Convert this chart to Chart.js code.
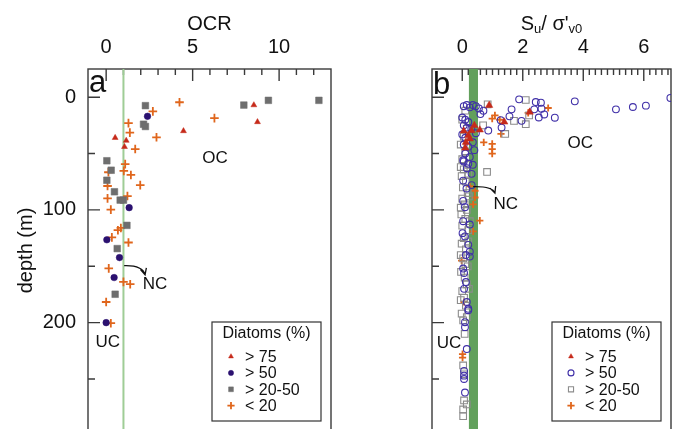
<!DOCTYPE html>
<html>
<head>
<meta charset="utf-8">
<script src="https://cdn.jsdelivr.net/npm/chart.js@4.4.0/dist/chart.umd.min.js"></script>
<style>
  html, body { margin: 0; padding: 0; background: #fff; overflow: hidden; width: 681px; height: 429px; }
  canvas { position: absolute; top: 0; }
</style>
</head>
<body>
<canvas id="chart-ocr" width="345" height="432" style="left:0"></canvas>
<canvas id="chart-su" width="336" height="432" style="left:345px"></canvas>
<script>
// Données : [valeur, profondeur (m)]
const diatomLabels = ['> 75', '> 50', '> 20-50', '< 20'];
const depthTicks = [0, 100, 200];
const depthMinor = [50, 150, 250];

// Panneau a : OCR
const ocrTicks = [0, 5, 10];
const ocrNC = 1;
const ocrTri = [[8.54, 7], [8.75, 22], [4.47, 30], [0.52, 36], [1.16, 38.5], [1.06, 44]];
const ocrCircle = [[2.39, 17], [1.33, 98], [0.04, 126.5], [0.77, 142.3], [0.46, 160], [0.0, 200]];
const ocrSquare = [[2.27, 7.5], [7.96, 7], [9.38, 2.8], [12.3, 2.8], [2.16, 24], [2.27, 26],
  [0.04, 56.4], [0.29, 64.8], [0.04, 73.7], [0.48, 83.9], [0.81, 91.3], [1.0, 91.3],
  [1.2, 113.7], [0.64, 134.3], [0.52, 174.8]];
const ocrPlus = [[4.24, 4.5], [2.7, 12.6], [6.26, 18.6], [1.29, 23], [1.37, 31.4], [2.91, 35.6],
  [1.68, 46], [1.1, 59.4], [0.13, 66.6], [1.02, 65.4], [1.43, 69], [0.08, 78.8], [1.97, 78],
  [1.23, 87.7], [0.08, 89.8], [0.27, 99.7], [0.85, 116], [0.68, 118], [0.33, 124.4],
  [1.29, 128.9], [0.15, 151.9], [1.0, 163.8], [1.39, 165.9], [0.0, 181.7], [0.27, 200.5]];

// Panneau b : Su / sigma'v0
const suTicks = [0, 2, 4, 6];
const suBand = [0.22, 0.52];
const suTri = [[0.89, 7.2], [2.23, 13.2], [1.39, 22], [0.31, 29.6], [0.2, 34], [0.25, 37],
  [0.12, 40], [0.58, 29], [0.4, 25], [0.05, 30], [0.1, 45]];
const suCircle = [[1.88, 1.9], [2.43, 4.3], [2.6, 4.9], [3.72, 3.7], [5.08, 10.8], [5.64, 8.7],
  [6.07, 7.5], [6.88, 0.7], [1.63, 10.8], [2.38, 10.8], [2.62, 10.2], [2.71, 15.3], [2.53, 18],
  [3.06, 18.2], [1.56, 17], [1.96, 21], [1.27, 20.4], [1.3, 27], [0.86, 29.6],
  [0.05, 8], [0.15, 7], [0.25, 9], [0.35, 7], [0.45, 8], [0.55, 10], [0.7, 12], [0.6, 15],
  [0.0, 18], [0.1, 20], [0.2, 22], [0.05, 25], [0.15, 27], [0.3, 28], [0.45, 32], [0.0, 33],
  [0.1, 36], [0.35, 40], [0.05, 42], [0.2, 44], [0.4, 47], [0.1, 50], [0.25, 53], [0.05, 57],
  [0.35, 60], [0.15, 63], [0.03, 56], [0.2, 59], [0.31, 68], [0.03, 74], [0.14, 81], [0.31, 78],
  [0.03, 92], [0.09, 97.6], [0.03, 110], [0.25, 113], [0.01, 120.6], [0.09, 123.5], [0.2, 131],
  [0.25, 137], [0.12, 140], [0.25, 141.4], [0.03, 152], [0.06, 156], [0.12, 164], [0.06, 170],
  [0.15, 181.7], [0.2, 187.7], [0.2, 189], [0.09, 199.6], [0.09, 204], [0.15, 223.4],
  [0.06, 242.8], [0.06, 247], [0.06, 250], [0.09, 262]];
const suSquare = [[2.1, 2.5], [0.84, 6.3], [1.71, 21], [2.1, 24], [2.21, 16.2], [1.42, 32.6],
  [0.69, 25], [0.82, 66.3], [0.1, 12], [0.0, 20], [0.15, 28], [0.05, 35], [-0.05, 42], [0.1, 48],
  [0.0, 55], [0.2, 60], [0.05, 64], [-0.02, 70], [0.12, 75], [0.02, 80], [0.18, 85], [0.0, 90],
  [0.08, 95], [0.15, 100], [-0.03, 104], [0.1, 108], [0.0, 114], [0.2, 118], [0.05, 125],
  [-0.02, 130], [0.12, 135], [0.03, 143], [0.1, 148], [-0.04, 155], [0.08, 160], [0.15, 166],
  [0.0, 172], [0.06, 178], [0.12, 185], [-0.02, 192], [0.03, 198], [0.08, 210], [0.03, 238],
  [0.06, 245.8], [0.06, 269], [0.15, 272.6], [0.03, 277], [0.03, 283], [0.2, 68], [0.22, 88],
  [0.25, 110], [0.2, 128], [0.18, 150], [0.22, 170], [0.15, 195], [-0.05, 62], [-0.05, 98],
  [-0.05, 140], [-0.05, 180]];
const suPlus = [[0.99, 19], [1.24, 20], [1.28, 32.6], [0.71, 40], [0.99, 41.5], [0.99, 46],
  [0.99, 50], [1.08, 16.2], [2.18, 14], [2.84, 9.6], [0.25, 79], [0.42, 83], [0.42, 89],
  [0.36, 95], [0.58, 109.5], [0.36, 119], [-0.02, 145], [0.06, 181.7], [0.01, 228], [0.01, 231]];

const FONT = '"Liberation Sans", Arial, Helvetica, sans-serif';
Chart.defaults.font.family = FONT;
Chart.defaults.color = '#111';

function pts(arr) {
  return arr.map(([x, y]) => ({ x: x, y: y }));
}

// Cadre, graduations intérieures, annotations et légende
const decor = {
  id: 'decor',
  beforeDatasetsDraw(chart, args, o) {
    const { ctx, chartArea: a } = chart;
    const sx = chart.scales.x, sy = chart.scales.y;
    ctx.save();
    ctx.strokeStyle = '#3a3a3a';
    ctx.lineWidth = 1.4;
    ctx.strokeRect(a.left, a.top, a.right - a.left, a.bottom - a.top);
    ctx.beginPath();
    const [v0, v1, step] = o.xMinor;
    for (let i = 0; v0 + i * step <= v1 + 1e-9; i++) {
      const v = v0 + i * step;
      const px = sx.getPixelForValue(v);
      const major = o.xMajor.some(m => Math.abs(m - v) < 1e-6);
      ctx.moveTo(px, a.top);
      ctx.lineTo(px, a.top + (major ? 12 : 6));
    }
    depthTicks.forEach(v => { const py = sy.getPixelForValue(v); ctx.moveTo(a.left, py); ctx.lineTo(a.left + 12, py); });
    depthMinor.forEach(v => { const py = sy.getPixelForValue(v); ctx.moveTo(a.left, py); ctx.lineTo(a.left + 7, py); });
    ctx.stroke();
    ctx.restore();
  },
  afterDraw(chart, args, o) {
    const { ctx, chartArea: a } = chart;
    const sx = chart.scales.x, sy = chart.scales.y;
    ctx.save();
    ctx.fillStyle = '#111';
    ctx.textBaseline = 'alphabetic';
    ctx.textAlign = 'left';
    ctx.font = '31px ' + FONT;
    ctx.fillText(o.letter, a.left + 1, a.top + o.letterBase);

    ctx.font = '17px ' + FONT;
    ctx.textAlign = 'center';
    ctx.textBaseline = 'middle';
    o.notes.forEach(n => ctx.fillText(n.text, sx.getPixelForValue(n.x), sy.getPixelForValue(n.y)));

    // flèche NC
    const A = o.arrow;
    const p0 = [sx.getPixelForValue(A[0][0]), sy.getPixelForValue(A[0][1])];
    const pc = [sx.getPixelForValue(A[1][0]), sy.getPixelForValue(A[1][1])];
    const p1 = [sx.getPixelForValue(A[2][0]), sy.getPixelForValue(A[2][1])];
    ctx.strokeStyle = '#111';
    ctx.lineWidth = 1.3;
    ctx.beginPath();
    ctx.moveTo(p0[0], p0[1]);
    ctx.quadraticCurveTo(pc[0], pc[1], p1[0], p1[1]);
    const ang = Math.atan2(p1[1] - pc[1], p1[0] - pc[0]);
    ctx.moveTo(p1[0] - 7 * Math.cos(ang - 0.45), p1[1] - 7 * Math.sin(ang - 0.45));
    ctx.lineTo(p1[0], p1[1]);
    ctx.lineTo(p1[0] - 7 * Math.cos(ang + 0.45), p1[1] - 7 * Math.sin(ang + 0.45));
    ctx.stroke();

    // titre de l'axe avec indices
    if (o.titleParts) {
      let total = 0;
      o.titleParts.forEach(p => { ctx.font = (p.sub ? '13px ' : '20px ') + FONT; p.w = ctx.measureText(p.t).width; total += p.w; });
      let cx = (a.left + a.right) / 2 - total / 2;
      ctx.textAlign = 'left';
      ctx.textBaseline = 'alphabetic';
      o.titleParts.forEach(p => {
        ctx.font = (p.sub ? '13px ' : '20px ') + FONT;
        ctx.fillText(p.t, cx, p.sub ? 33 : 29.5);
        cx += p.w;
      });
    }

    // légende encadrée
    const L = o.legend;
    const bx = a.right - L.right - L.w, by = L.top;
    ctx.strokeStyle = '#333';
    ctx.lineWidth = 1.2;
    ctx.strokeRect(bx, by, L.w, L.h);
    ctx.font = '16px ' + FONT;
    ctx.textAlign = 'center';
    ctx.textBaseline = 'middle';
    ctx.fillText('Diatoms (%)', bx + L.w / 2, by + 12);
    ctx.textAlign = 'left';
    chart.data.datasets.filter(d => d.inLegend).forEach((d, i) => {
      const yy = by + 34.5 + i * 16.4;
      ctx.fillStyle = d.backgroundColor;
      ctx.strokeStyle = d.borderColor;
      ctx.lineWidth = d.borderWidth;
      Chart.helpers.drawPoint(ctx, { pointStyle: d.pointStyle, radius: d.legendRadius, rotation: 0, borderWidth: d.borderWidth }, bx + 19, yy);
      ctx.fillStyle = '#111';
      ctx.fillText(d.label, bx + 33, yy + 1);
    });
    ctx.restore();
  }
};

const red = '#c62a1a', orange = '#e0661c';

function axes(xMin, xMax, xTicks, xTitle, showY, yWidth) {
  return {
    x: {
      type: 'linear', position: 'top', min: xMin, max: xMax,
      afterBuildTicks: s => { s.ticks = xTicks.map(v => ({ value: v })); },
      afterFit: s => { s.height = 69; s.paddingLeft = 0; s.paddingRight = 0; },
      grid: { display: false, drawTicks: false },
      border: { display: false },
      ticks: { font: { size: 20 }, color: '#111', padding: 10 },
      title: { display: !!xTitle, text: xTitle, font: { size: 20 }, color: '#111', padding: { top: 12, bottom: 0 } }
    },
    y: {
      type: 'linear', reverse: true, min: -25, max: 297,
      afterBuildTicks: s => { s.ticks = depthTicks.map(v => ({ value: v })); },
      afterFit: s => { s.width = yWidth; s.paddingTop = 0; s.paddingBottom = 0; },
      grid: { display: false, drawTicks: false },
      border: { display: false },
      ticks: { display: showY, font: { size: 20 }, color: '#111', padding: 12 },
      title: { display: showY, text: 'depth (m)', font: { size: 20 }, color: '#111', padding: { top: 14, bottom: 0 } }
    }
  };
}

// Panneau a
new Chart(document.getElementById('chart-ocr'), {
  type: 'scatter',
  data: {
    datasets: [
      { label: diatomLabels[0], inLegend: true, data: pts(ocrTri), pointStyle: 'triangle', pointRadius: 3.4, legendRadius: 2.8,
        backgroundColor: red, borderColor: red, borderWidth: 0.5 },
      { label: diatomLabels[1], inLegend: true, data: pts(ocrCircle), pointStyle: 'circle', pointRadius: 3.3, legendRadius: 2.6,
        backgroundColor: '#2b1170', borderColor: '#2b1170', borderWidth: 0.5 },
      { label: diatomLabels[2], inLegend: true, data: pts(ocrSquare), pointStyle: 'rect', pointRadius: 4.7, legendRadius: 3.4,
        backgroundColor: '#6e6e6e', borderColor: '#6e6e6e', borderWidth: 0.5 },
      { label: diatomLabels[3], inLegend: true, data: pts(ocrPlus), pointStyle: 'cross', pointRadius: 4.3, legendRadius: 3.6,
        backgroundColor: orange, borderColor: orange, borderWidth: 1.8 },
      { label: 'NC', type: 'line', data: [{ x: ocrNC, y: -25 }, { x: ocrNC, y: 300 }],
        borderColor: '#9fcd96', borderWidth: 2, pointRadius: 0, fill: false }
    ]
  },
  options: {
    responsive: false,
    animation: false,
    layout: { autoPadding: false, padding: { left: 0, right: 14, top: 0, bottom: 0 } },
    scales: axes(-1.05, 13, ocrTicks, 'OCR', true, 88),
    plugins: {
      legend: { display: false },
      tooltip: { enabled: false },
      decor: {
        xMinor: [0, 12, 1], xMajor: ocrTicks, letter: 'a', letterBase: 23,
        notes: [{ text: 'OC', x: 6.3, y: 54 }, { text: 'NC', x: 2.83, y: 165.6 }, { text: 'UC', x: 0.09, y: 217.5 }],
        arrow: [[1.04, 149.5], [2.1, 149], [2.25, 157.5]],
        legend: { right: 10, w: 109, top: 322, h: 99 }
      }
    }
  },
  plugins: [decor]
});

// Panneau b
new Chart(document.getElementById('chart-su'), {
  type: 'scatter',
  data: {
    datasets: [
      { label: diatomLabels[0], inLegend: true, data: pts(suTri), pointStyle: 'triangle', pointRadius: 4.2, legendRadius: 2.8,
        backgroundColor: red, borderColor: red, borderWidth: 0.5 },
      { label: diatomLabels[1], inLegend: true, data: pts(suCircle), pointStyle: 'circle', pointRadius: 3.4, legendRadius: 3,
        backgroundColor: 'rgba(0,0,0,0)', borderColor: '#4030a8', borderWidth: 1.1 },
      { label: diatomLabels[2], inLegend: true, data: pts(suSquare), pointStyle: 'rect', pointRadius: 4.7, legendRadius: 3.6,
        backgroundColor: 'rgba(0,0,0,0)', borderColor: '#8c8c8c', borderWidth: 1.1 },
      { label: diatomLabels[3], inLegend: true, data: pts(suPlus), pointStyle: 'cross', pointRadius: 3.6, legendRadius: 3.6,
        backgroundColor: orange, borderColor: orange, borderWidth: 1.8 },
      { label: 'NC', type: 'line', fill: 'shape',
        data: [{ x: suBand[0], y: -25 }, { x: suBand[1], y: -25 }, { x: suBand[1], y: 300 }, { x: suBand[0], y: 300 }],
        backgroundColor: '#62a05c', borderColor: '#62a05c', borderWidth: 0, pointRadius: 0 }
    ]
  },
  options: {
    responsive: false,
    animation: false,
    layout: { autoPadding: false, padding: { left: 0, right: 10, top: 0, bottom: 0 } },
    scales: axes(-1, 6.9, suTicks, '', false, 87),
    plugins: {
      legend: { display: false },
      tooltip: { enabled: false },
      decor: {
        xMinor: [0, 6.8, 0.2], xMajor: suTicks, letter: 'b', letterBase: 25,
        notes: [{ text: 'OC', x: 3.9, y: 40.6 }, { text: 'NC', x: 1.44, y: 95 }, { text: 'UC', x: -0.44, y: 218 }],
        arrow: [[0.36, 79.4], [1.0, 79], [1.08, 85]],
        titleParts: [{ t: 'S' }, { t: 'u', sub: true }, { t: '/ σ\'' }, { t: 'v0', sub: true }],
        legend: { right: 10, w: 109, top: 322, h: 99 }
      }
    }
  },
  plugins: [decor]
});
</script>
</body>
</html>
